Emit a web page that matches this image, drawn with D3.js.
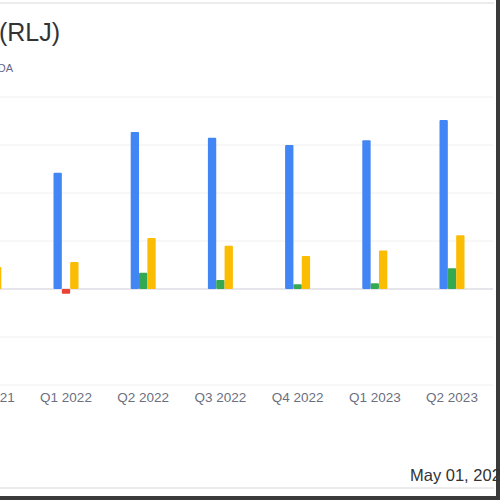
<!DOCTYPE html>
<html>
<head>
<meta charset="utf-8">
<script src="https://cdn.jsdelivr.net/npm/d3@7"></script>
<style>
  body { margin: 0; background: #fff; }
  svg { display: block; font-family: "Liberation Sans", Arial, sans-serif; }
</style>
</head>
<body>
<svg id="chart" width="500" height="500"></svg>
<script>
const quarters = ['Q4 2021', 'Q1 2022', 'Q2 2022', 'Q3 2022', 'Q4 2022', 'Q1 2023', 'Q2 2023']
const revenue = [230, 242, 327, 315, 300, 310, 352]
const netIncome = [-20, -10, 34, 19, 10, 12, 43]
const ebitda = [46, 56, 106, 90, 69, 80, 112]
const yTicks = [-200, -100, 0, 100, 200, 300, 400]

const svg = d3.select('#chart')
const width = 500
const height = 500

// frame lines of the card
svg.append('rect').attr('x', 0).attr('y', 2).attr('width', 494).attr('height', 2).attr('fill', '#ececec')
svg.append('rect').attr('x', 0).attr('y', 487).attr('width', 494).attr('height', 2).attr('fill', '#ececec')
svg.append('rect').attr('x', 496).attr('y', 0).attr('width', 4).attr('height', height).attr('fill', '#3a3a3a')
svg.append('rect').attr('x', 0).attr('y', 496).attr('width', width).attr('height', 4).attr('fill', '#3a3a3a')

svg.append('text')
  .attr('x', 60).attr('y', 41)
  .attr('text-anchor', 'end')
  .style('font-size', '25px')
  .style('fill', '#333')
  .text('RLJ Lodging Trust (RLJ)')

svg.append('text')
  .attr('x', 13).attr('y', 72)
  .attr('text-anchor', 'end')
  .style('font-size', '11px')
  .style('fill', '#66668a')
  .text('Revenue, Net Income and EBITDA')

let y = d3.scaleLinear()
  .domain([-200, 400])
  .range([385, 97])

let x = d3.scalePoint()
  .domain(quarters)
  .range([-11.2, 452])

let series = ['revenue', 'netIncome', 'ebitda']
let sub = d3.scaleBand()
  .domain(series)
  .range([-12.5, 12.5])

svg.append('g')
  .selectAll('line')
  .data(yTicks)
  .enter()
  .append('line')
  .attr('x1', 0)
  .attr('x2', 493)
  .attr('y1', d => y(d))
  .attr('y2', d => y(d))
  .attr('stroke', d => d === 0 ? '#dcdce4' : '#f0f0f0')
  .attr('stroke-width', d => d === 0 ? 1.5 : 1)

let rows = quarters.map((q, i) => ({ q, revenue: revenue[i], netIncome: netIncome[i], ebitda: ebitda[i] }))
let colors = { revenue: '#4285f4', ebitda: '#fbbc04' }

let groups = svg.append('g')
  .selectAll('g')
  .data(rows)
  .enter()
  .append('g')
  .attr('transform', d => `translate(${x(d.q)},0)`)

groups.selectAll('rect')
  .data(d => series.map(s => ({ s, v: d[s] })))
  .enter()
  .append('rect')
  .attr('x', d => sub(d.s))
  .attr('width', sub.bandwidth())
  .attr('y', d => y(Math.max(0, d.v)))
  .attr('height', d => Math.abs(y(d.v) - y(0)))
  .attr('rx', 1)
  .attr('fill', d => {
    if (d.s === 'netIncome') return d.v < 0 ? '#ea4335' : '#34a853'
    return colors[d.s]
  })

svg.append('g')
  .selectAll('text')
  .data(quarters)
  .enter()
  .append('text')
  .attr('x', d => x(d))
  .attr('y', 402)
  .attr('text-anchor', 'middle')
  .style('font-size', '13.5px')
  .style('fill', '#6b6f80')
  .text(d => d)

svg.append('text')
  .attr('x', 410).attr('y', 481)
  .style('font-size', '16.5px')
  .style('fill', '#333')
  .text('May 01, 2024')
</script>
</body>
</html>
